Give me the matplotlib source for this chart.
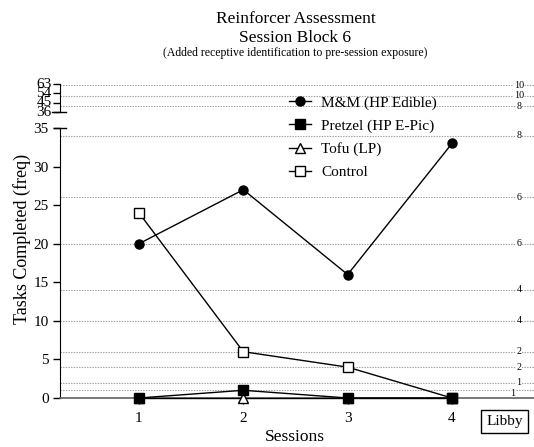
import matplotlib
matplotlib.use("Agg")
import matplotlib.pyplot as plt
import matplotlib.transforms as mtransforms

plt.rcParams["font.family"] = ["Liberation Serif", "DejaVu Serif"]

# --- data -------------------------------------------------------------
sessions = [1, 2, 3, 4]
mm_edible = [20, 27, 16, 33]
pretzel_epic = [0, 1, 0, 0]
tofu_lp = [0, 0, 0, 0]
control = [24, 6, 4, 0]

lower_ticks = [0, 5, 10, 15, 20, 25, 30, 35]
upper_ticks = [36, 45, 54, 63]

# reference lines and the step size written next to each one
ref_levels = [1, 2, 4, 6, 10, 14, 20, 26, 34, 42, 52, 62]
ref_steps = [1, 1, 2, 2, 4, 4, 6, 6, 8, 8, 10, 10]

# --- layout helpers ---------------------------------------------------
W, H = 534, 447
fig = plt.figure(figsize=(W / 100, H / 100), dpi=100)


def rect(left, top, right, bottom):
    return [left / W, 1 - bottom / H, (right - left) / W, (bottom - top) / H]


ax = fig.add_axes(rect(60, 128, 534, 398))
axu = fig.add_axes(rect(60, 84, 534, 112.3), sharex=ax)
for a in (ax, axu):
    a.patch.set_alpha(0)
    a.spines["top"].set_visible(False)
    a.spines["right"].set_visible(False)

ax.set_xlim(0.243, 4.786)
ax.set_ylim(0, 35)
axu.set_ylim(36, 63)

grid_kw = dict(color="#9a9a9a", lw=0.8, ls=(0, (1.2, 1.2)), zorder=0)
lab_kw = dict(fontsize=7.2, ha="center", va="center", zorder=1,
              bbox=dict(boxstyle="square,pad=0.05", fc="white", ec="none"))
for lev, step in zip(ref_levels, ref_steps):
    target = ax if lev <= 35 else axu
    target.axhline(lev, **grid_kw)
    trans = mtransforms.blended_transform_factory(target.transAxes, target.transData)
    if lev == 1:
        target.text(0.956, lev - 0.45, str(step), transform=trans, **lab_kw)
    else:
        target.text(0.968, lev, str(step), transform=trans, **lab_kw)

# --- series -----------------------------------------------------------
line_kw = dict(color="black", lw=1.0, clip_on=False, zorder=3)
ax.plot(sessions, control, marker="s", ms=7, mfc="white", mec="black", mew=1.0,
        label="Control", **line_kw)
ax.plot(sessions, tofu_lp, marker="^", ms=7, mfc="white", mec="black", mew=1.0,
        label="Tofu (LP)", **line_kw)
ax.plot(sessions, pretzel_epic, marker="s", ms=7, mfc="black", mec="black",
        label="Pretzel (HP E-Pic)", **line_kw)
ax.plot(sessions, mm_edible, marker="o", ms=6.5, mfc="black", mec="black",
        label="M&M (HP Edible)", **line_kw)

# --- axes styling -----------------------------------------------------
ax.spines["bottom"].set_color("#606060")
ax.spines["bottom"].set_linewidth(1.2)
ax.set_xticks(sessions)
ax.set_yticks(lower_ticks)
ax.tick_params(axis="both", direction="out", length=5, width=1.0, labelsize=11,
               pad=3)
ax.tick_params(axis="x", length=4, pad=6)

axu.set_yticks(upper_ticks)
axu.tick_params(axis="y", direction="out", length=5, width=1.0, labelsize=11,
                pad=1)
axu.tick_params(axis="x", bottom=False, labelbottom=False)
axu.spines["bottom"].set_visible(False)
for lbl in axu.get_yticklabels():
    lbl.set_va("center")

# axis break marks across the left spine
brk = dict(color="black", lw=1.0, clip_on=False, zorder=4)
axu.plot([-0.016, 0.012], [0, 0], transform=axu.transAxes, **brk)
ax.plot([-0.012, 0.012], [1, 1], transform=ax.transAxes, **brk)

# --- text -------------------------------------------------------------
fig.text(296 / W, 1 - 23 / H, "Reinforcer Assessment", ha="center",
         va="baseline", fontsize=12.5)
fig.text(295 / W, 1 - 42 / H, "Session Block 6", ha="center",
         va="baseline", fontsize=12.5)
fig.text(295 / W, 1 - 56 / H,
         "(Added receptive identification to pre-session exposure)",
         ha="center", va="baseline", fontsize=8.5)

fig.text(22 / W, 1 - 239 / H, "Tasks Completed (freq)", rotation=90,
         ha="center", va="center", fontsize=13)
fig.text(295 / W, 1 - 437 / H, "Sessions", ha="center", va="center",
         fontsize=12.5)

fig.text(504.5 / W, 1 - 421.5 / H, "Libby", ha="center", va="center",
         fontsize=11,
         bbox=dict(boxstyle="square,pad=0.35", fc="white", ec="black", lw=1.0))

# legend in the reading order of the series
handles, labels = ax.get_legend_handles_labels()
order = [3, 2, 1, 0]
fig.legend([handles[i] for i in order], [labels[i] for i in order],
           loc="upper left", bbox_to_anchor=(289 / W, 1 - 96 / H),
           frameon=False, fontsize=11, handlelength=1.45, handletextpad=0.65,
           labelspacing=0.6, borderpad=0, borderaxespad=0)

fig.savefig("out.png", dpi=100)
